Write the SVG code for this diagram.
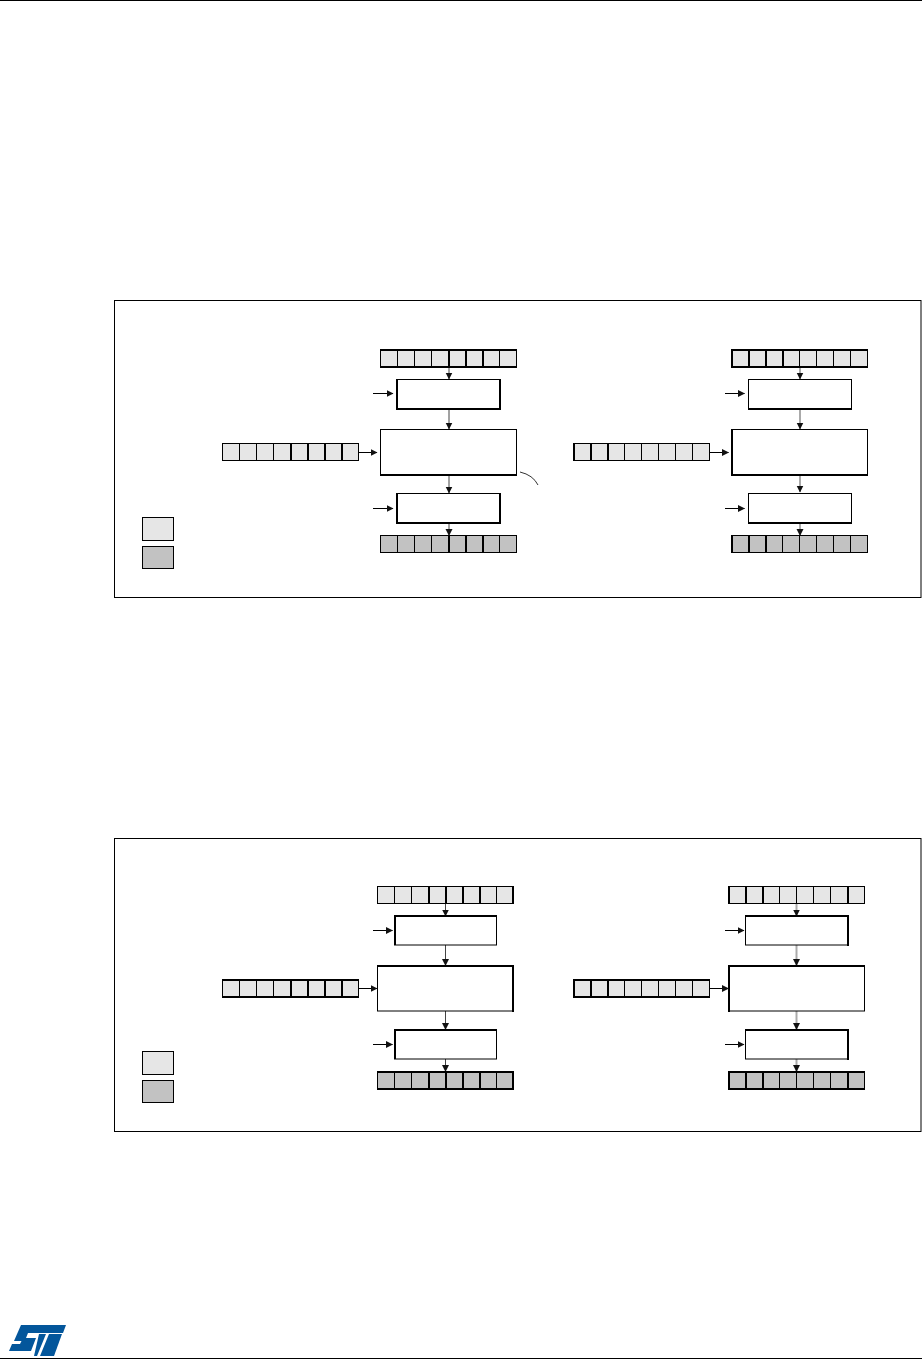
<svg xmlns="http://www.w3.org/2000/svg" width="922" height="1361" viewBox="0 0 922 1361">
<style>
.page{fill:#fff}
.frame{fill:#fff;stroke:#000;stroke-width:1}
.box{fill:#fff;stroke:#000;stroke-width:1}
.in{fill:#e6e6e6;stroke:#000;stroke-width:1}
.out{fill:#c2c2c2;stroke:#000;stroke-width:1}
.div{fill:none;stroke:#000;stroke-width:1}
.thick{fill:none;stroke:#000;stroke-width:2}
.rule{stroke:#000;stroke-width:1}
.k{fill:none;stroke:#000;stroke-width:1;marker-end:url(#a)}
.d{fill:none;stroke:#444;stroke-width:1;marker-end:url(#a)}
.l{fill:none;stroke:#aaa;stroke-width:2;marker-end:url(#a)}
.callout{fill:none;stroke:#333;stroke-width:1}
.logo{fill:#03569b}
</style>
<defs>
<marker id="a" markerUnits="userSpaceOnUse" markerWidth="8" markerHeight="8" refX="6.500" refY="4" orient="auto">
<path d="M0 0.500L7 4L0 7.500Z" fill="#111"/>
</marker>
</defs>
<rect class="page" width="922" height="1361"/>
<line class="rule" x1="0" y1="0.500" x2="922" y2="0.500"/>
<line class="rule" x1="0" y1="1358.500" x2="922" y2="1358.500"/>
<g id="st-logo">
<path class="logo" d="M21 1325H66L63 1333H28L26 1338H36L31 1351H9L12 1344H20L21.500 1341H14Z"/>
<path class="logo" d="M39 1334H46L37 1356H34Z"/>
<path class="logo" d="M49 1334H62L54 1356H40Z"/>
</g>
<g id="frame-1"><rect class="frame" x="114.500" y="300.500" width="806.500" height="297"/></g>
<g id="frame-2"><rect class="frame" x="114.500" y="838.500" width="806.500" height="293"/></g>

<g id="connectors">
<path class="d" d="M449 367V379"/>
<path class="d" d="M449 409V429"/>
<path class="d" d="M449 475V493"/>
<path class="d" d="M449 523V535.500"/>
<path class="k" d="M373 393.500H393"/>
<path class="k" d="M373 508.500H393"/>
<path class="k" d="M359 452.500H377"/>
<path class="l" d="M800 367V379"/>
<path class="l" d="M800 409V429"/>
<path class="l" d="M800 475V492"/>
<path class="l" d="M800 523V535.500"/>
<path class="k" d="M725 393.500H744.500"/>
<path class="k" d="M725 508.500H744.500"/>
<path class="k" d="M710 452.500H728.500"/>
<path class="callout" d="M520 472Q533 475 538 485"/>
<path class="d" d="M445.500 903V916"/>
<path class="d" d="M445.500 945V965.500"/>
<path class="d" d="M445.500 1011V1029.500"/>
<path class="d" d="M445.500 1059V1071.500"/>
<path class="k" d="M373 930.500H392.500"/>
<path class="k" d="M373 1044.500H392.500"/>
<path class="k" d="M359 988.500H377"/>
<path class="l" d="M796.500 903V916"/>
<path class="l" d="M796.500 945V965.500"/>
<path class="l" d="M796.500 1011V1029.500"/>
<path class="l" d="M796.500 1059V1071.500"/>
<path class="k" d="M725 930.500H744"/>
<path class="k" d="M725 1044.500H744"/>
<path class="k" d="M710 988.500H728.500"/>
</g>

<g id="f1-input-a">
<rect class="in" x="380.500" y="350.500" width="136" height="16.500"/>
<path class="div" d="M397.500 350V367M414.500 350V367M431.500 350V367M499.500 350V367"/>
<path class="thick" d="M380 350H517M380 367H517M449 350V367M466 350V367M483 350V367"/>
</g>
<g id="f1-shift-a"><rect class="box" x="396.500" y="379.500" width="103.500" height="29.500"/><path class="thick" d="M397 379V410M500 379V410M396 409H501"/></g>
<g id="f1-input-b">
<rect class="in" x="222.500" y="443.500" width="136" height="17"/>
<path class="div" d="M239.500 444V460M256.500 444V460M273.500 444V460"/>
<path class="thick" d="M291 444V460M308 444V460M325 444V460M342 444V460"/>
</g>
<g id="f1-alu"><rect class="box" x="380.500" y="429.500" width="136" height="45.500"/><path class="thick" d="M380 475H517"/></g>
<g id="f1-shift-b"><rect class="box" x="396.500" y="493.500" width="103.500" height="29.500"/><path class="thick" d="M397 493V524M500 493V524M396 523H501"/></g>
<g id="f1-output">
<rect class="out" x="380.500" y="535.500" width="136" height="17"/>
<path class="div" d="M397.500 536V552M414.500 536V552M431.500 536V552M499.500 536V552"/>
<path class="thick" d="M449 536V552M466 536V552M483 536V552"/>
</g>
<g id="f1-legend-in"><rect class="in" x="142.500" y="517.500" width="31" height="23"/></g>
<g id="f1-legend-out"><rect class="out" x="142.500" y="546.500" width="31" height="22"/></g>

<g id="f1r-input-a">
<rect class="in" x="731.500" y="350.500" width="136" height="16.500"/>
<path class="div" d="M799.500 350V367M816.500 350V367M833.500 350V367M850.500 350V367"/>
<path class="thick" d="M731 350H868M731 367H868M732 350V367M749 350V367M766 350V367M783 350V367"/>
</g>
<g id="f1r-shift-a"><rect class="box" x="748.500" y="379.500" width="103" height="29.500"/><path class="thick" d="M748 409H852"/></g>
<g id="f1r-input-b">
<rect class="in" x="573.500" y="443.500" width="136" height="17"/>
<path class="div" d="M624.500 444V460M641.500 444V460M658.500 444V460M675.500 444V460M692.500 444V460"/>
<path class="thick" d="M574 443V461M591 444V460M608 444V460"/>
</g>
<g id="f1r-alu"><rect class="box" x="732.500" y="429.500" width="135" height="45.500"/><path class="thick" d="M732 475H868M732 429V476"/></g>
<g id="f1r-shift-b"><rect class="box" x="748.500" y="493.500" width="103" height="29.500"/><path class="thick" d="M748 523H852"/></g>
<g id="f1r-output">
<rect class="out" x="731.500" y="535.500" width="136" height="17"/>
<path class="div" d="M782.500 536V552M799.500 536V552M816.500 536V552M833.500 536V552M850.500 536V552"/>
<path class="thick" d="M732 535V553M749 536V552M766 536V552"/>
</g>

<g id="f2-input-a">
<rect class="in" x="377.500" y="886.500" width="136" height="17"/>
<path class="div" d="M394.500 887V903M411.500 887V903M496.500 887V903"/>
<path class="thick" d="M429 887V903M446 887V903M463 887V903M480 887V903M513 886V904"/>
</g>
<g id="f2-shift-a"><rect class="box" x="394.500" y="915.500" width="102" height="29.500"/><path class="thick" d="M394 916H497M395 915V945"/></g>
<g id="f2-input-b">
<rect class="in" x="222.500" y="980" width="136" height="17"/>
<path class="div" d="M239.500 980V997M256.500 980V997M273.500 980V997"/>
<path class="thick" d="M222 980H359M222 997H359M291 980V997M308 980V997M325 980V997M342 980V997"/>
</g>
<g id="f2-alu"><rect class="box" x="377.500" y="965.500" width="136" height="45.500"/><path class="thick" d="M377 966H514M513 965V1012"/></g>
<g id="f2-shift-b"><rect class="box" x="394.500" y="1029.500" width="102" height="29.500"/><path class="thick" d="M394 1030H497M395 1029V1059"/></g>
<g id="f2-output">
<rect class="out" x="377.500" y="1072" width="136" height="17"/>
<path class="div" d="M394.500 1072V1089M411.500 1072V1089M496.500 1072V1089"/>
<path class="thick" d="M377 1072H514M377 1089H514M429 1072V1089M446 1072V1089M463 1072V1089M480 1072V1089M513 1071V1090"/>
</g>
<g id="f2-legend-in"><rect class="in" x="142.500" y="1051.500" width="31" height="23"/></g>
<g id="f2-legend-out"><rect class="out" x="142.500" y="1080.500" width="31" height="22"/></g>

<g id="f2r-input-a">
<rect class="in" x="728.500" y="886.500" width="136" height="17"/>
<path class="div" d="M779.500 887V903M796.500 887V903M813.500 887V903M830.500 887V903"/>
<path class="thick" d="M729 886V904M746 887V903M763 887V903M848 887V903"/>
</g>
<g id="f2r-shift-a"><rect class="box" x="745.500" y="915.500" width="103" height="29.500"/><path class="thick" d="M745 916H849M848 915V946"/></g>
<g id="f2r-input-b">
<rect class="in" x="573.500" y="980" width="136" height="17"/>
<path class="div" d="M624.500 980V997M641.500 980V997M658.500 980V997M675.500 980V997M692.500 980V997"/>
<path class="thick" d="M573 980H710M573 997H710M574 979V998M591 980V997M608 980V997"/>
</g>
<g id="f2r-alu"><rect class="box" x="728.500" y="965.500" width="136" height="45.500"/><path class="thick" d="M728 966H865M729 965V1012"/></g>
<g id="f2r-shift-b"><rect class="box" x="745.500" y="1029.500" width="103" height="29.500"/><path class="thick" d="M745 1030H849M848 1029V1060"/></g>
<g id="f2r-output">
<rect class="out" x="728.500" y="1072" width="136" height="17"/>
<path class="div" d="M779.500 1072V1089M796.500 1072V1089M813.500 1072V1089M830.500 1072V1089"/>
<path class="thick" d="M728 1072H865M728 1089H865M729 1071V1090M746 1072V1089M763 1072V1089M848 1072V1089"/>
</g>
</svg>
